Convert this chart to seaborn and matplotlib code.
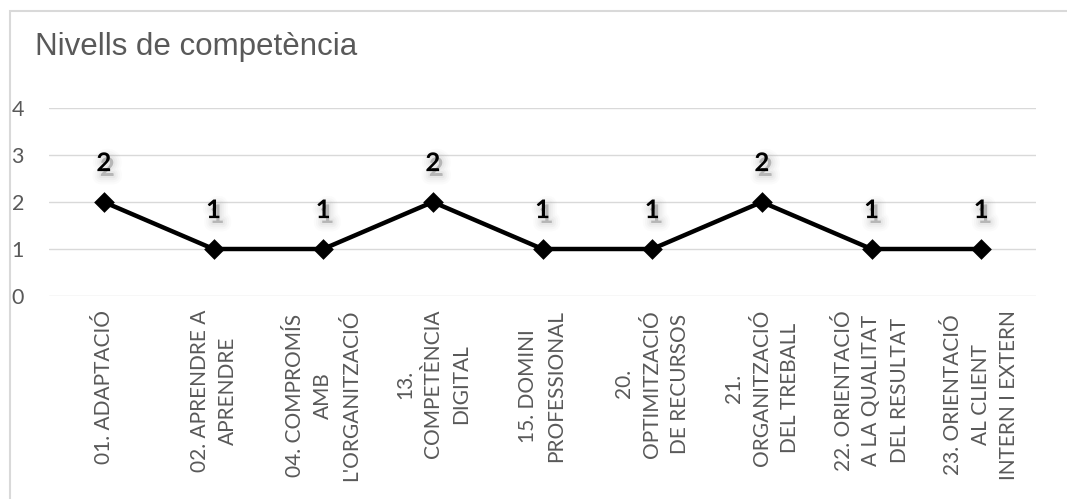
import matplotlib
matplotlib.use("Agg")
import matplotlib.pyplot as plt
import matplotlib.patheffects as pe
from matplotlib.patches import Rectangle
import seaborn as sns

# Competency names (line breaks as shown on the axis) and achieved levels
categories = [
    "01. ADAPTACIÓ",
    "02. APRENDRE A\nAPRENDRE",
    "04. COMPROMÍS\nAMB\nL'ORGANITZACIÓ",
    "13.\nCOMPETÈNCIA\nDIGITAL",
    "15. DOMINI\nPROFESSIONAL",
    "20.\nOPTIMITZACIÓ\nDE RECURSOS",
    "21.\nORGANITZACIÓ\nDEL TREBALL",
    "22. ORIENTACIÓ\nA LA QUALITAT\nDEL RESULTAT",
    "23. ORIENTACIÓ\nAL CLIENT\nINTERN I EXTERN",
]
levels = [2, 1, 1, 2, 1, 1, 2, 1, 1]
y_ticks = [0, 1, 2, 3, 4]
title = "Nivells de competència"

sns.set_theme(style="white")
plt.rcParams["font.family"] = ["Lato", "DejaVu Sans"]

W, H = 1067, 499
fig = plt.figure(figsize=(W / 100, H / 100), dpi=100)
fig.patch.set_facecolor("white")

ax = fig.add_axes([49 / W, 1 - 296 / H, (1036 - 49) / W, (296 - 108) / H])

sns.pointplot(
    x=categories, y=levels, ax=ax, color="black",
    markers="D", markersize=8.5, linewidth=3.2, errorbar=None,
)

ax.set_ylim(0, 4)
ax.set_yticks(y_ticks)
ax.set_yticklabels([str(t) for t in y_ticks])
ax.set_xlim(-0.5, len(categories) - 0.5)
ax.yaxis.grid(True, color="#d9d9d9", linewidth=1)
ax.set_axisbelow(True)
for s in ax.spines.values():
    s.set_visible(False)
ax.set_xlabel("")
ax.set_ylabel("")

ax.tick_params(axis="y", length=0, pad=18, labelsize=15.5, labelcolor="#595959")
ax.tick_params(axis="x", length=0, pad=10)
for lbl in ax.get_xticklabels():
    lbl.set_rotation(90)
    lbl.set_ha("center")
    lbl.set_va("top")
    lbl.set_multialignment("center")
    lbl.set_fontsize(15)
    lbl.set_color("#595959")
    lbl.set_linespacing(1.5)

# Soft drop shadow under the value labels
shadow = [
    pe.Stroke(offset=(2.5, -3.5), linewidth=w, foreground="#a0a0a0", alpha=a)
    for w, a in [(12, 0.04), (9, 0.05), (6, 0.07), (3, 0.09)]
] + [pe.Normal()]

for i, v in enumerate(levels):
    ax.annotate(
        str(v), xy=(i, v), xytext=(0, 28), textcoords="offset points",
        ha="center", va="center", fontsize=18.5, fontweight="bold",
        color="black", path_effects=shadow,
    )

fig.text(35 / W, 1 - 47 / H, title, ha="left", va="center",
         fontsize=22.5, color="#595959", family=["Liberation Sans", "DejaVu Sans"])

# Chart area frame (continues past the right and bottom edges)
fig.patches.append(Rectangle((10 / W, -0.1), 1.2, (1 - 11 / H) + 0.1,
                             transform=fig.transFigure, fill=False,
                             edgecolor="#d9d9d9", linewidth=1.5))

fig.savefig("out.png", dpi=100)
